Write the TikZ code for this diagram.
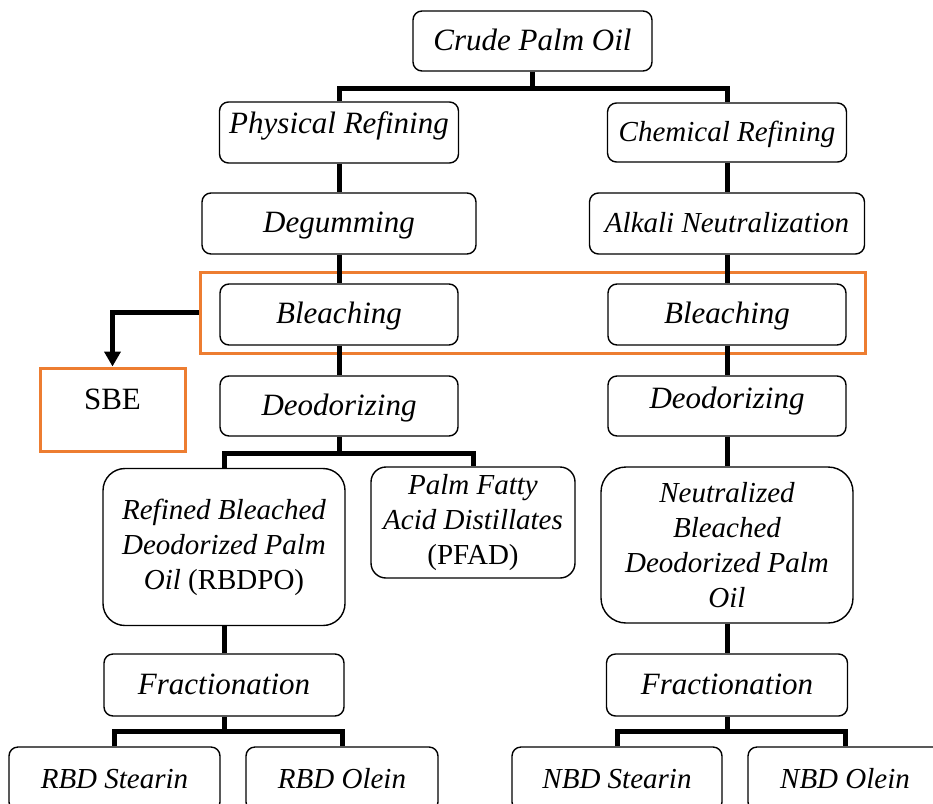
\documentclass[tikz,border=0pt]{standalone}
\usepackage{fontspec}
\setmainfont{Liberation Serif}
\usepackage{tikz}
\usepackage{xcolor}
\usetikzlibrary{positioning, arrows.meta}
\definecolor{zoneorange}{HTML}{ED7D31}

\begin{document}
\begin{tikzpicture}[x=1pt, y=-1pt,
    box/.style={draw, line width=1.4pt, inner sep=1pt},
    stage/.style={box, rounded corners=9pt, minimum height=61pt, text height=24pt, text depth=6pt,
      font=\itshape\fontsize{31}{34}\selectfont},
    bigstage/.style={box, rounded corners=22pt, align=center, font=\itshape\fontsize{29}{35}\selectfont},
    link/.style={line width=5pt},
    zone/.style={draw=zoneorange, line width=3pt}]
  \useasboundingbox (0,0) rectangle (933,803);
  \clip (0,0) rectangle (933,803);
  % orange frame round the bleaching step
  \node[zone, minimum width=665pt, minimum height=81pt] (zone) at (532.5,312.5) {};
  \node[zone, minimum width=145pt, minimum height=83pt, text height=24pt, text depth=24pt,
    font=\fontsize{31}{34}\selectfont] (sbe) at (112.5,409.5) {SBE};
  %
  \node[stage, minimum width=239pt, minimum height=60pt] (cpo) at (532.5,41) {Crude Palm Oil};
  \node[stage, minimum width=239pt, text depth=22pt] (phys) at (339,132.5) {Physical Refining};
  \node[stage, minimum width=239pt, minimum height=59pt, font=\itshape\fontsize{29}{34}\selectfont]
    (chem) at (727,132.5) {Chemical Refining};
  \node[stage, minimum width=274pt] (degum) at (339,223.5) {Degumming};
  \node[stage, minimum width=275pt, font=\itshape\fontsize{29}{34}\selectfont]
    (alkali) at (727,223.5) {Alkali Neutralization};
  \node[stage, minimum width=238pt] (bleachL) at (339,314.5) {Bleaching};
  \node[stage, minimum width=238pt] (bleachR) at (727,314.5) {Bleaching};
  \node[stage, minimum width=238pt, minimum height=60pt] (deoL) at (339,406) {Deodorizing};
  \node[stage, minimum width=238pt, minimum height=60pt, text depth=20pt] (deoR) at (727,406) {Deodorizing};
  %
  \node[bigstage, minimum width=242pt, minimum height=157pt] (rbdpo) at (224,547)
    {Refined Bleached\\Deodorized Palm\\Oil \textup{(RBDPO)}};
  \node[bigstage, rounded corners=15pt, minimum width=204pt, minimum height=111pt] (pfad) at (473,522.5)
    {Palm Fatty\\Acid Distillates\\\textup{(PFAD)}};
  \node[bigstage, rounded corners=25pt, minimum width=252pt, minimum height=156pt] (nbdpo) at (727,545)
    {Neutralized\\Bleached\\Deodorized Palm\\Oil};
  %
  \node[stage, minimum width=240pt, minimum height=62pt] (fracL) at (224,685) {Fractionation};
  \node[stage, minimum width=241pt, minimum height=62pt] (fracR) at (727,685) {Fractionation};
  \node[stage, minimum width=211pt, minimum height=64pt, font=\itshape\fontsize{29}{34}\selectfont]
    (rbdst) at (114.5,779) {RBD Stearin};
  \node[stage, minimum width=192pt, minimum height=64pt, font=\itshape\fontsize{29}{34}\selectfont]
    (rbdol) at (342,779) {RBD Olein};
  \node[stage, minimum width=210pt, minimum height=64pt, font=\itshape\fontsize{29}{34}\selectfont]
    (nbdst) at (617,779) {NBD Stearin};
  \node[stage, minimum width=194pt, minimum height=64pt, font=\itshape\fontsize{29}{34}\selectfont]
    (nbdol) at (845,779) {NBD Olein};
  %
  \draw[link] (cpo.south) -- ++(0,17) coordinate (split1);
  \draw[link] (phys.north) |- (split1) -| (chem.north);
  \draw[link] (phys) -- (degum) -- (bleachL) -- (deoL);
  \draw[link] (chem) -- (alkali) -- (bleachR) -- (deoR) -- (nbdpo) -- (fracR);
  \draw[link, line width=4.5pt, -{Triangle[length=15pt, width=16pt]}] (zone.west) -| (sbe.north);
  %
  \draw[link] (deoL.south) -- ++(0,17) coordinate (split2);
  \draw[link] (rbdpo.north) |- (split2) -| (pfad.north);
  \draw[link] (rbdpo) -- (fracL);
  \draw[link] (fracL.south) -- ++(0,15) coordinate (split3);
  \draw[link] (rbdst.north) |- (split3) -| (rbdol.north);
  \draw[link] (fracR.south) -- ++(0,15) coordinate (split4);
  \draw[link] (nbdst.north) |- (split4) -| (nbdol.north);
\end{tikzpicture}
\end{document}
